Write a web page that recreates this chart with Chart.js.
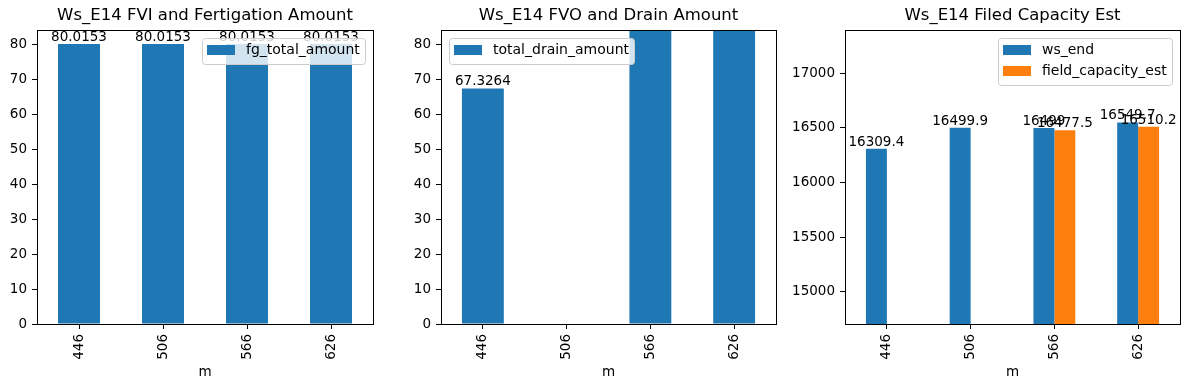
<!DOCTYPE html>
<html>
<head>
<meta charset="utf-8">
<script src="https://cdn.jsdelivr.net/npm/chart.js@4/dist/chart.umd.min.js"></script>
<style>
  body { margin: 0; background: #fff; }
  #fig { position: relative; width: 1189px; height: 390px; }
  canvas { position: absolute; top: 0; }
</style>
</head>
<body>
<div id="fig">
  <canvas id="c1" width="390" height="390" style="left:0px"></canvas>
  <canvas id="c2" width="400" height="390" style="left:390px"></canvas>
  <canvas id="c3" width="399" height="390" style="left:790px"></canvas>
</div>
<script>
// data
var categories = ['446', '506', '566', '626']
var fgTotalAmount = [80.0153, 80.0153, 80.0153, 80.0153]
var totalDrainAmount = [67.3264, null, 120, 130]   // last two run past the top of the axis
var wsEnd = [16309.4, 16499.9, 16499, 16549.7]
var fieldCapacityEst = [null, null, 16477.5, 16510.2]

var yRange1 = [0, 84.02]
var yTicks1 = [0, 10, 20, 30, 40, 50, 60, 70, 80]
var yRange3 = [14705, 17395]
var yTicks3 = [15000, 15500, 16000, 16500, 17000]

var BLUE = '#1f77b4'
var ORANGE = '#ff7f0e'
var FONT = 'DejaVu Sans'

// like matplotlib's %g
function fmt(v) {
    return String(parseFloat(v.toPrecision(6)))
}

function decorations(title, legendSide, legendItems) {
    return {
        id: 'deco',
        afterDatasetsDraw: function (chart) {
            var ctx = chart.ctx
            var ymax = chart.scales.y.max
            ctx.save()
            ctx.font = '13.5px "' + FONT + '"'
            ctx.fillStyle = '#000'
            ctx.textAlign = 'center'
            ctx.textBaseline = 'alphabetic'
            chart.data.datasets.forEach(function (ds, i) {
                var meta = chart.getDatasetMeta(i)
                meta.data.forEach(function (bar, j) {
                    var v = ds.data[j]
                    if (v == null || v > ymax) return
                    ctx.fillText(fmt(v), bar.x, bar.y - 3)
                })
            })
            ctx.restore()
        },
        afterDraw: function (chart) {
            var ctx = chart.ctx
            var area = chart.chartArea
            ctx.save()
            // frame (all four spines)
            ctx.strokeStyle = '#000'
            ctx.lineWidth = 1
            ctx.strokeRect(Math.round(area.left) + 0.5, Math.round(area.top) + 0.5,
                Math.round(area.right - area.left), Math.round(area.bottom - area.top))

            // title
            ctx.fillStyle = '#000'
            ctx.textAlign = 'center'
            ctx.textBaseline = 'middle'
            ctx.font = '16.5px "' + FONT + '"'
            ctx.fillText(title, (area.left + area.right) / 2, 16)

            // x axis label
            ctx.font = '13.5px "' + FONT + '"'
            ctx.fillText('m', (area.left + area.right) / 2, 372)

            // legend
            ctx.font = '14px "' + FONT + '"'
            var textW = 0
            legendItems.forEach(function (it) {
                textW = Math.max(textW, ctx.measureText(it.label).width)
            })
            var w = 5 + 28 + 11 + textW + 5
            var h = 5 + legendItems.length * 21
            var x0 = legendSide === 'left' ? area.left + 8 : area.right - 8 - w
            var y0 = area.top + 7.5
            ctx.beginPath()
            ctx.roundRect(Math.round(x0) + 0.5, Math.round(y0) + 0.5, Math.round(w), Math.round(h), 3)
            ctx.fillStyle = 'rgba(255,255,255,0.8)'
            ctx.fill()
            ctx.strokeStyle = '#cccccc'
            ctx.stroke()
            legendItems.forEach(function (it, k) {
                var cy = y0 + 12 + k * 21
                ctx.fillStyle = it.color
                ctx.fillRect(Math.round(x0) + 5, Math.round(cy - 5), 28, 10)
                ctx.fillStyle = '#000'
                ctx.textAlign = 'left'
                ctx.textBaseline = 'middle'
                ctx.fillText(it.label, Math.round(x0) + 44, cy + 1)
            })
            ctx.restore()
        }
    }
}

function makeChart(id, datasets, yRange, yTicks, yAxisWidth, padRight, title, legendSide, grouped) {
    var tickGrid = {
        display: true,
        drawOnChartArea: false,
        drawTicks: true,
        tickLength: 5,
        color: '#000',
        lineWidth: 1
    }
    return new Chart(document.getElementById(id), {
        type: 'bar',
        data: {
            labels: categories,
            datasets: datasets.map(function (d) {
                return {
                    label: d.label,
                    data: d.data,
                    backgroundColor: d.color,
                    borderWidth: 0,
                    categoryPercentage: grouped ? 0.5 : 1,
                    barPercentage: grouped ? 1 : 0.5
                }
            })
        },
        options: {
            responsive: false,
            animation: false,
            events: [],
            layout: { padding: { top: 30, right: padRight, left: 0, bottom: 0 } },
            plugins: {
                legend: { display: false },
                title: { display: false },
                tooltip: { enabled: false }
            },
            scales: {
                x: {
                    offset: true,
                    grid: Object.assign({ offset: false }, tickGrid),
                    border: { display: false },
                    ticks: {
                        minRotation: 90,
                        maxRotation: 90,
                        padding: 5,
                        color: '#000',
                        font: { family: FONT, size: 13.5 }
                    },
                    afterFit: function (s) { s.height = 66 }
                },
                y: {
                    min: yRange[0],
                    max: yRange[1],
                    grid: tickGrid,
                    border: { display: false },
                    ticks: {
                        padding: 5,
                        color: '#000',
                        font: { family: FONT, size: 13.5 },
                        callback: function (v) { return String(v) }
                    },
                    afterBuildTicks: function (s) {
                        s.ticks = yTicks.map(function (v) { return { value: v } })
                    },
                    afterFit: function (s) { s.width = yAxisWidth }
                }
            }
        },
        plugins: [decorations(title, legendSide, datasets.map(function (d) {
            return { label: d.label, color: d.color }
        }))]
    })
}

makeChart('c1', [{ label: 'fg_total_amount', data: fgTotalAmount, color: BLUE }],
    yRange1, yTicks1, 37, 17, 'Ws_E14 FVI and Fertigation Amount', 'right', false)

makeChart('c2', [{ label: 'total_drain_amount', data: totalDrainAmount, color: BLUE }],
    yRange1, yTicks1, 51, 14, 'Ws_E14 FVO and Drain Amount', 'left', false)

makeChart('c3', [
    { label: 'ws_end', data: wsEnd, color: BLUE },
    { label: 'field_capacity_est', data: fieldCapacityEst, color: ORANGE }
], yRange3, yTicks3, 55, 9, 'Ws_E14 Filed Capacity Est', 'right', true)
</script>
</body>
</html>
